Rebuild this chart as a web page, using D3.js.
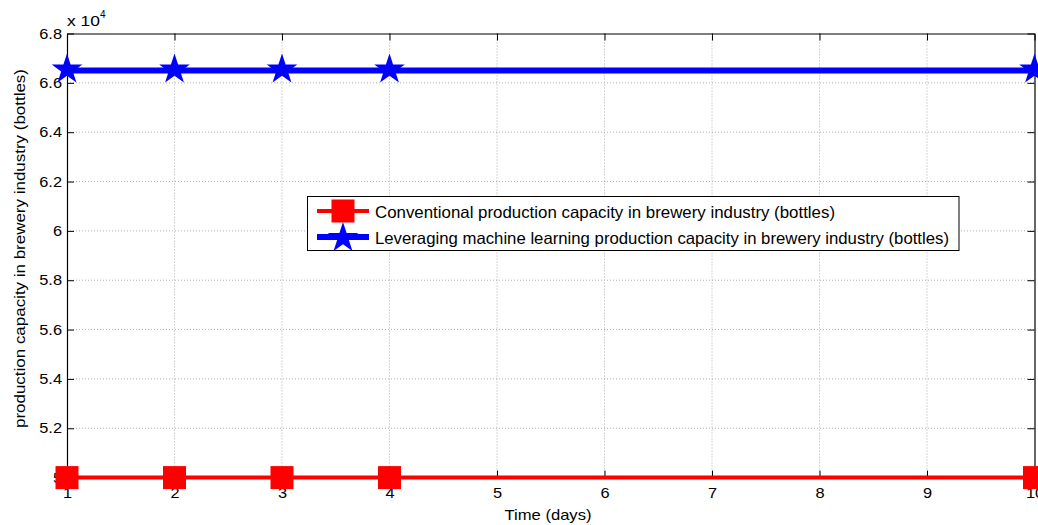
<!DOCTYPE html>
<html><head><meta charset="utf-8">
<script src="https://cdn.jsdelivr.net/npm/d3@7"></script>
<style>body{margin:0;background:#fff;}svg{display:block;font-family:"Liberation Sans",Arial,sans-serif;}</style>
</head><body>
<svg id="chart" width="1038" height="525"></svg>
<script>
const days = [1, 2, 3, 4, 10];
const conventional = [50000, 50000, 50000, 50000, 50000];
const leveraging = [66500, 66500, 66500, 66500, 66500];
const xTicks = [1, 2, 3, 4, 5, 6, 7, 8, 9, 10];
const yTicks = [50000, 52000, 54000, 56000, 58000, 60000, 62000, 64000, 66000, 68000];
const seriesNames = ["Conventional production capacity in brewery industry (bottles)",
  "Leveraging machine learning production capacity in brewery industry (bottles)"];

const svg = d3.select("#chart");
const L = 67, R = 1034.5, T = 33.5, B = 477.6;
const x = d3.scaleLinear().domain([1, 10]).range([L, R]);
const y = d3.scaleLinear().domain([50000, 68000]).range([B, T]);

function stretch(sel, f) {
  sel.each(function () {
    const w = this.getComputedTextLength();
    d3.select(this).attr("textLength", w * f).attr("lengthAdjust", "spacingAndGlyphs");
  });
}
function fitTo(sel, w) {
  sel.attr("textLength", w).attr("lengthAdjust", "spacingAndGlyphs");
}

svg.append("rect").attr("x", 0).attr("y", 0).attr("width", 1038).attr("height", 525).attr("fill", "#fff");

// grid
const grid = svg.append("g").attr("stroke", "#999").attr("stroke-width", 0.8).attr("stroke-dasharray", "1,2");
grid.selectAll("line.gx").data(xTicks.slice(1, -1)).join("line")
  .attr("x1", d => x(d)).attr("x2", d => x(d)).attr("y1", T).attr("y2", B);
grid.selectAll("line.gy").data(yTicks.slice(1, -1)).join("line")
  .attr("x1", L).attr("x2", R).attr("y1", d => y(d)).attr("y2", d => y(d));

// axes (inward ticks)
const fmtY = d => d3.format("")(+(d / 10000).toFixed(1));
const axB = svg.append("g").attr("transform", `translate(0,${B})`).call(d3.axisBottom(x).tickValues(xTicks).tickSizeInner(-7).tickSizeOuter(0).tickPadding(10));
const axT = svg.append("g").attr("transform", `translate(0,${T})`).call(d3.axisTop(x).tickValues(xTicks).tickSizeInner(-7).tickSizeOuter(0).tickFormat(""));
const axL = svg.append("g").attr("transform", `translate(${L},0)`).call(d3.axisLeft(y).tickValues(yTicks).tickSizeInner(-7).tickSizeOuter(0).tickPadding(5).tickFormat(fmtY));
const axR = svg.append("g").attr("transform", `translate(${R},0)`).call(d3.axisRight(y).tickValues(yTicks).tickSizeInner(-7).tickSizeOuter(0).tickFormat(""));
[axB, axT, axL, axR].forEach(a => {
  a.selectAll("path").attr("stroke", "#000").attr("stroke-width", 1.2);
  a.selectAll("line").attr("stroke", "#000");
  a.selectAll("text").attr("font-size", 14.5).attr("fill", "#000").attr("font-family", "Liberation Sans, Arial, sans-serif");
});
stretch(axB.selectAll("text"), 1.13);
stretch(axL.selectAll("text"), 1.13);

// exponent
const ex = svg.append("text").attr("x", 67).attr("y", 26).attr("font-size", 14.5).attr("fill", "#000");
ex.append("tspan").text("x 10").attr("textLength", 33).attr("lengthAdjust", "spacingAndGlyphs");
ex.append("tspan").attr("dy", -8).attr("font-size", 10).text("4");

// labels
fitTo(svg.append("text").attr("x", 548).attr("y", 520).attr("text-anchor", "middle").attr("font-size", 15).text("Time (days)"), 87);
fitTo(svg.append("text").attr("transform", `translate(25,248.5) rotate(-90)`).attr("text-anchor", "middle").attr("font-size", 15).text("production capacity in brewery industry (bottles)"), 359);

// series
const line = d3.line().x(d => x(d[0])).y(d => y(d[1]));
const conv = days.map((d, i) => [d, conventional[i]]);
const lev = days.map((d, i) => [d, leveraging[i]]);
svg.append("path").datum(conv).attr("d", line).attr("fill", "none").attr("stroke", "#f00").attr("stroke-width", 4);
svg.append("path").datum(lev).attr("d", line).attr("fill", "none").attr("stroke", "#00f").attr("stroke-width", 6);
const sq = d3.symbol().type(d3.symbolSquare).size(23 * 23);
const st = d3.symbol().type(d3.symbolStar).size(290);
svg.selectAll("path.sq").data(conv).join("path").attr("class", "sq").attr("d", sq)
  .attr("transform", d => `translate(${x(d[0])},${y(d[1])})`).attr("fill", "#f00");
svg.selectAll("path.st").data(lev).join("path").attr("class", "st").attr("d", st)
  .attr("transform", d => `translate(${x(d[0])},${y(d[1]) - 1})`).attr("fill", "#00f");

// legend
const lg = svg.append("g");
lg.append("rect").attr("x", 307.5).attr("y", 196.5).attr("width", 651.5).attr("height", 54)
  .attr("fill", "#fff").attr("stroke", "#000").attr("stroke-width", 1);
const rows = [{c: "#f00", w: 4, s: sq, y: 211, tw: 460}, {c: "#00f", w: 6, s: st, y: 237, tw: 574}];
rows.forEach((r, i) => {
  lg.append("line").attr("x1", 317).attr("x2", 369).attr("y1", r.y).attr("y2", r.y).attr("stroke", r.c).attr("stroke-width", r.w);
  lg.append("path").attr("d", r.s).attr("fill", r.c).attr("transform", `translate(343,${r.y + (i ? 1 : 0)})`);
  fitTo(lg.append("text").attr("x", 375).attr("y", r.y + 7).attr("font-size", 16.5).attr("fill", "#000").text(seriesNames[i]), r.tw);
});
</script>
</body></html>
